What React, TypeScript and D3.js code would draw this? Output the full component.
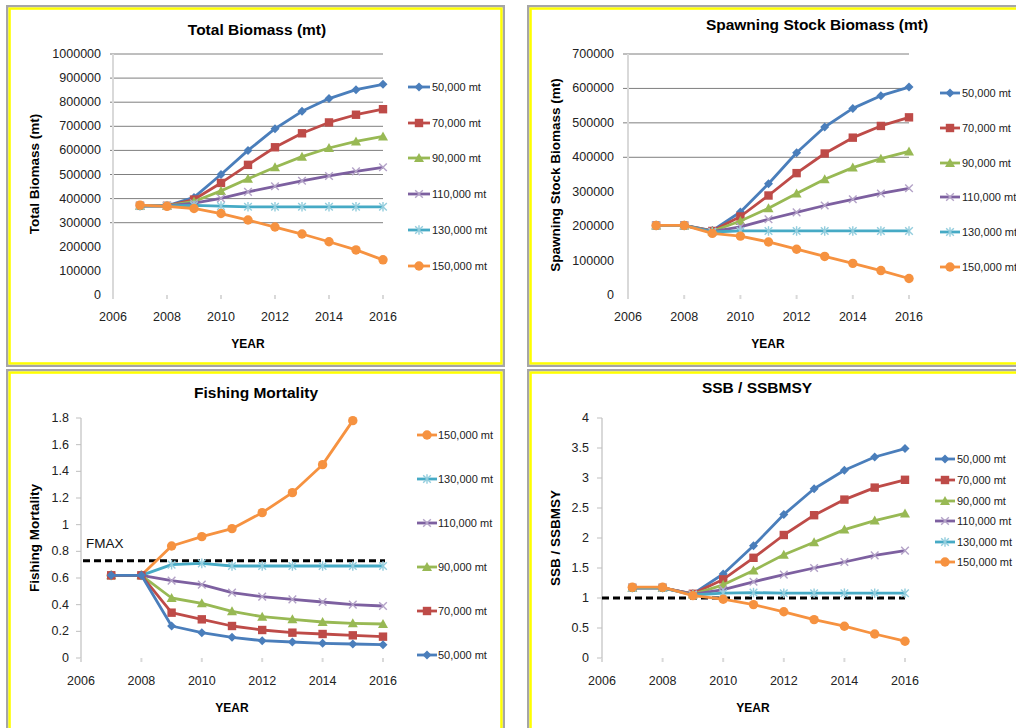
import React from 'react';
import * as d3 from 'd3';

// ---- data ----
const years = [2007, 2008, 2009, 2010, 2011, 2012, 2013, 2014, 2015, 2016];
const xTicks = [2006, 2008, 2010, 2012, 2014, 2016];
const scenarios = ['50,000 mt', '70,000 mt', '90,000 mt', '110,000 mt', '130,000 mt', '150,000 mt'];

// Total biomass (mt)
const tb50 = [370000, 370000, 405000, 500000, 600000, 690000, 762000, 815000, 852000, 874000];
const tb70 = [370000, 370000, 396000, 465000, 540000, 613000, 671000, 716000, 748000, 771000];
const tb90 = [370000, 370000, 388000, 432000, 482000, 530000, 574000, 610000, 637000, 658000];
const tb110 = [370000, 370000, 381000, 401000, 428000, 451000, 474000, 494000, 513000, 530000];
const tb130 = [370000, 370000, 372000, 369000, 366000, 366000, 366000, 366000, 366000, 366000];
const tb150 = [373000, 368000, 359000, 338000, 311000, 282000, 253000, 221000, 187000, 146000];
const tbTicks = [0, 100000, 200000, 300000, 400000, 500000, 600000, 700000, 800000, 900000, 1000000];
const tbGrid = [300000, 400000, 500000, 600000, 700000, 800000, 900000, 1000000];

// Spawning stock biomass (mt)
const ssb50 = [202000, 202000, 187000, 241000, 323000, 413000, 488000, 542000, 579000, 604000];
const ssb70 = [202000, 202000, 186000, 228000, 289000, 354000, 411000, 457000, 491000, 516000];
const ssb90 = [202000, 202000, 185000, 215000, 252000, 295000, 336000, 370000, 396000, 417000];
const ssb110 = [202000, 202000, 184000, 198000, 220000, 240000, 260000, 278000, 295000, 310000];
const ssb130 = [202000, 202000, 183000, 186000, 186000, 186000, 186000, 186000, 186000, 186000];
const ssb150 = [202000, 202000, 179000, 171000, 154000, 133000, 112000, 92000, 71000, 48000];
const ssbTicks = [0, 100000, 200000, 300000, 400000, 500000, 600000, 700000];
const ssbGrid = [400000, 500000, 600000, 700000];

// Fishing mortality
const f50 = [0.62, 0.62, 0.24, 0.19, 0.155, 0.13, 0.12, 0.11, 0.105, 0.1];
const f70 = [0.62, 0.62, 0.34, 0.29, 0.24, 0.21, 0.19, 0.18, 0.17, 0.16];
const f90 = [0.62, 0.62, 0.45, 0.41, 0.35, 0.31, 0.29, 0.27, 0.26, 0.255];
const f110 = [0.62, 0.62, 0.58, 0.55, 0.49, 0.46, 0.44, 0.42, 0.4, 0.39];
const f130 = [0.62, 0.62, 0.7, 0.71, 0.69, 0.69, 0.69, 0.69, 0.69, 0.69];
const f150 = [0.62, 0.62, 0.84, 0.91, 0.97, 1.09, 1.24, 1.45, 1.78, null];
const fTicks = [0, 0.2, 0.4, 0.6, 0.8, 1, 1.2, 1.4, 1.6, 1.8];
const fTickLabels = ['0', '0.2', '0.4', '0.6', '0.8', '1', '1.2', '1.4', '1.6', '1.8'];
const fmax = 0.73;

// SSB / SSBMSY
const r50 = [1.17, 1.17, 1.07, 1.4, 1.87, 2.39, 2.82, 3.13, 3.35, 3.49];
const r70 = [1.17, 1.17, 1.07, 1.31, 1.67, 2.05, 2.38, 2.64, 2.84, 2.97];
const r90 = [1.17, 1.17, 1.06, 1.22, 1.46, 1.72, 1.93, 2.14, 2.29, 2.41];
const r110 = [1.17, 1.17, 1.06, 1.14, 1.27, 1.39, 1.5, 1.6, 1.71, 1.79];
const r130 = [1.17, 1.17, 1.05, 1.08, 1.09, 1.08, 1.08, 1.08, 1.08, 1.08];
const r150 = [1.18, 1.18, 1.04, 0.98, 0.89, 0.77, 0.64, 0.53, 0.4, 0.28];
const rTicks = [0, 0.5, 1, 1.5, 2, 2.5, 3, 3.5, 4];
const rTickLabels = ['0', '0.5', '1', '1.5', '2', '2.5', '3', '3.5', '4'];
const ssbmsyRef = 1;

// ---- styles ----
const FONT = "'Liberation Sans', Arial, sans-serif";
const colors = ['#4A7EBB', '#BE4B48', '#98B954', '#7D60A0', '#46AAC5', '#F69240'];
const lightColors = ['#4A7EBB', '#BE4B48', '#98B954', '#B3A2C7', '#93CDDD', '#F69240'];
const markers = ['diamond', 'square', 'triangle', 'x', 'star', 'circle'];

type Marker = { kind: string; x: number; y: number; i: number };

const MarkerShape = ({kind, x, y, i}: Marker) => {
    const c = colors[i];
    if (kind === 'diamond') return <path d={`M${x},${y - 4.5}L${x + 4.5},${y}L${x},${y + 4.5}L${x - 4.5},${y}Z`} fill={c} />;
    if (kind === 'square') return <rect x={x - 4.2} y={y - 4.2} width={8.4} height={8.4} fill={c} />;
    if (kind === 'triangle') return <path d={`M${x},${y - 5}L${x + 5},${y + 4}L${x - 5},${y + 4}Z`} fill={c} />;
    if (kind === 'circle') return <circle cx={x} cy={y} r={4.7} fill={c} />;
    const s = 3.8;
    const lc = lightColors[i];
    return (
        <g stroke={lc} strokeWidth={1.4}>
            <line x1={x - s} y1={y - s} x2={x + s} y2={y + s} />
            <line x1={x - s} y1={y + s} x2={x + s} y2={y - s} />
            {kind === 'star' && <line x1={x} y1={y - s - 1} x2={x} y2={y + s + 1} />}
        </g>
    );
};

type PanelCfg = {
    title: string; titleX: number; titleY: number;
    yTitle: string; yTitleX: number; yTitleY: number;
    yearX: number; yearY: number;
    x0: number; x1: number; yTop: number; yBot: number;
    yMax: number; ticks: number[]; tickLabels: string[];
    grid: number[]; gridX0: number; tickMarks: boolean;
    labelX: number; xLabelY: number;
    series: (number | null)[][]; order: number[];
    legX0: number; legX1: number; legTextX: number; legY: number[];
    refLine?: { value: number; x0: number; x1: number };
    refLabel?: { text: string; x: number; y: number };
};

const Panel = ({cfg}: { cfg: PanelCfg }) => {
    const x = d3.scaleLinear().domain([2006, 2016]).range([cfg.x0, cfg.x1]);
    const y = d3.scaleLinear().domain([0, cfg.yMax]).range([cfg.yBot, cfg.yTop]);
    const line = d3.line<number | null>()
        .defined((d) => d !== null)
        .x((_, j) => x(years[j]))
        .y((d) => y(d as number));

    return (
        <g fontFamily={FONT}>
            <text x={cfg.titleX} y={cfg.titleY} textAnchor="middle" fontSize={15.5} fontWeight="bold" fill="#000">{cfg.title}</text>
            <text transform={`translate(${cfg.yTitleX},${cfg.yTitleY}) rotate(-90)`} textAnchor="middle"
                  dominantBaseline="central" fontSize={13.5} fontWeight="bold" fill="#000">{cfg.yTitle}</text>
            <text x={cfg.yearX} y={cfg.yearY} textAnchor="middle" fontSize={12} fontWeight="bold" fill="#000">YEAR</text>

            {/* gridlines */}
            {cfg.grid.map((g) => (
                <line key={g} x1={cfg.gridX0} x2={cfg.x1} y1={y(g)} y2={y(g)} stroke="#7F7F7F" strokeWidth={1} />
            ))}
            {/* y axis */}
            <line x1={cfg.x0} x2={cfg.x0} y1={cfg.yTop} y2={cfg.yBot + 4} stroke="#D9D9D9" strokeWidth={2} />
            {cfg.tickMarks && cfg.ticks.map((t) => (
                <line key={t} x1={cfg.x0 - 5} x2={cfg.x0} y1={y(t)} y2={y(t)} stroke="#BFBFBF" strokeWidth={1} />
            ))}
            {cfg.ticks.map((t, k) => (
                <text key={t} x={cfg.labelX} y={y(t)} textAnchor="end" dominantBaseline="central"
                      fontSize={12.5} fill="#222">{cfg.tickLabels[k]}</text>
            ))}
            {/* x axis ticks */}
            {xTicks.map((t) => (
                <g key={t}>
                    <line x1={x(t)} x2={x(t)} y1={cfg.yBot} y2={cfg.yBot + 4} stroke="#D9D9D9" strokeWidth={2} />
                    <text x={x(t)} y={cfg.xLabelY} textAnchor="middle" dominantBaseline="central" fontSize={12.5} fill="#222">{t}</text>
                </g>
            ))}

            {cfg.refLine && (
                <line x1={cfg.refLine.x0} x2={cfg.refLine.x1} y1={y(cfg.refLine.value)} y2={y(cfg.refLine.value)}
                      stroke="#000" strokeWidth={3} strokeDasharray="7,4" />
            )}
            {cfg.refLabel && (
                <text x={cfg.refLabel.x} y={cfg.refLabel.y} fontSize={13.5} fill="#111">{cfg.refLabel.text}</text>
            )}

            {/* series, in Excel draw order */}
            {cfg.order.map((i) => {
                const vals = cfg.series[i];
                return (
                    <g key={i}>
                        <path d={line(vals) || ''} fill="none" stroke={colors[i]} strokeWidth={2.8} strokeLinejoin="round" />
                        {vals.map((v, j) => v === null ? null : (
                            <MarkerShape key={j} kind={markers[i]} x={x(years[j])} y={y(v)} i={i} />
                        ))}
                    </g>
                );
            })}

            {/* legend */}
            {cfg.order.map((i, k) => {
                const ly = cfg.legY[k];
                const mx = (cfg.legX0 + cfg.legX1) / 2;
                return (
                    <g key={i}>
                        <line x1={cfg.legX0} x2={cfg.legX1} y1={ly} y2={ly} stroke={colors[i]} strokeWidth={2.8} />
                        <MarkerShape kind={markers[i]} x={mx} y={ly} i={i} />
                        <text x={cfg.legTextX} y={ly} dominantBaseline="central" fontSize={11} fill="#222">{scenarios[i]}</text>
                    </g>
                );
            })}
        </g>
    );
};

const panels: PanelCfg[] = [
    {
        title: 'Total Biomass (mt)', titleX: 257, titleY: 35,
        yTitle: 'Total Biomass (mt)', yTitleX: 34, yTitleY: 174,
        yearX: 248, yearY: 348,
        x0: 113, x1: 383, yTop: 54, yBot: 295,
        yMax: 1000000, ticks: tbTicks, tickLabels: tbTicks.map(String),
        grid: tbGrid, gridX0: 110, tickMarks: false,
        labelX: 101, xLabelY: 317,
        series: [tb50, tb70, tb90, tb110, tb130, tb150], order: [0, 1, 2, 3, 4, 5],
        legX0: 408, legX1: 430, legTextX: 432, legY: [87, 123, 158, 194, 230, 266],
    },
    {
        title: 'Spawning Stock Biomass (mt)', titleX: 817, titleY: 30,
        yTitle: 'Spawning Stock Biomass (mt)', yTitleX: 555, yTitleY: 175,
        yearX: 768, yearY: 348,
        x0: 628, x1: 909, yTop: 54, yBot: 295,
        yMax: 700000, ticks: ssbTicks, tickLabels: ssbTicks.map(String),
        grid: ssbGrid, gridX0: 623, tickMarks: false,
        labelX: 614, xLabelY: 317,
        series: [ssb50, ssb70, ssb90, ssb110, ssb130, ssb150], order: [0, 1, 2, 3, 4, 5],
        legX0: 940, legX1: 960, legTextX: 962, legY: [93, 128, 163, 197, 232, 267],
    },
    {
        title: 'Fishing Mortality', titleX: 256, titleY: 398,
        yTitle: 'Fishing Mortality', yTitleX: 34, yTitleY: 538,
        yearX: 232, yearY: 712,
        x0: 81, x1: 383, yTop: 418, yBot: 658,
        yMax: 1.8, ticks: fTicks, tickLabels: fTickLabels,
        grid: [], gridX0: 81, tickMarks: true,
        labelX: 69, xLabelY: 681,
        series: [f50, f70, f90, f110, f130, f150], order: [5, 4, 3, 2, 1, 0],
        legX0: 417, legX1: 437, legTextX: 438, legY: [435, 479, 523, 567, 611, 655],
        refLine: {value: fmax, x0: 83, x1: 385},
        refLabel: {text: 'FMAX', x: 86, y: 548},
    },
    {
        title: 'SSB / SSBMSY', titleX: 757, titleY: 393,
        yTitle: 'SSB / SSBMSY', yTitleX: 555, yTitleY: 538,
        yearX: 753, yearY: 712,
        x0: 602, x1: 905, yTop: 418, yBot: 658,
        yMax: 4, ticks: rTicks, tickLabels: rTickLabels,
        grid: [], gridX0: 602, tickMarks: true,
        labelX: 589, xLabelY: 681,
        series: [r50, r70, r90, r110, r130, r150], order: [0, 1, 2, 3, 4, 5],
        legX0: 935, legX1: 955, legTextX: 957, legY: [459, 480, 501, 521, 542, 562],
        refLine: {value: ssbmsyRef, x0: 602, x1: 905},
    },
];

// panel frames: gray outer, yellow inner
const frames = [
    {x: 6, y: 5, w: 499, h: 362},
    {x: 527, y: 5, w: 500, h: 362},
    {x: 6, y: 369, w: 499, h: 370},
    {x: 527, y: 369, w: 500, h: 370},
];

const App = () => (
    <svg width={1016} height={728} style={{position: 'absolute', left: 0, top: 0, background: '#fff'}}>
        <rect width={1016} height={728} fill="#fff" />
        {frames.map((f, k) => (
            <g key={k}>
                <rect x={f.x + 1.2} y={f.y + 1.2} width={f.w - 2.4} height={f.h - 2.4} fill="#fff" stroke="#A6A6A6" strokeWidth={2.4} />
                <rect x={f.x + 3.6} y={f.y + 3.6} width={f.w - 7.2} height={f.h - 7.2} fill="none" stroke="#FFFF00" strokeWidth={2.4} />
            </g>
        ))}
        {panels.map((p, k) => <Panel key={k} cfg={p} />)}
    </svg>
);

export default App;
